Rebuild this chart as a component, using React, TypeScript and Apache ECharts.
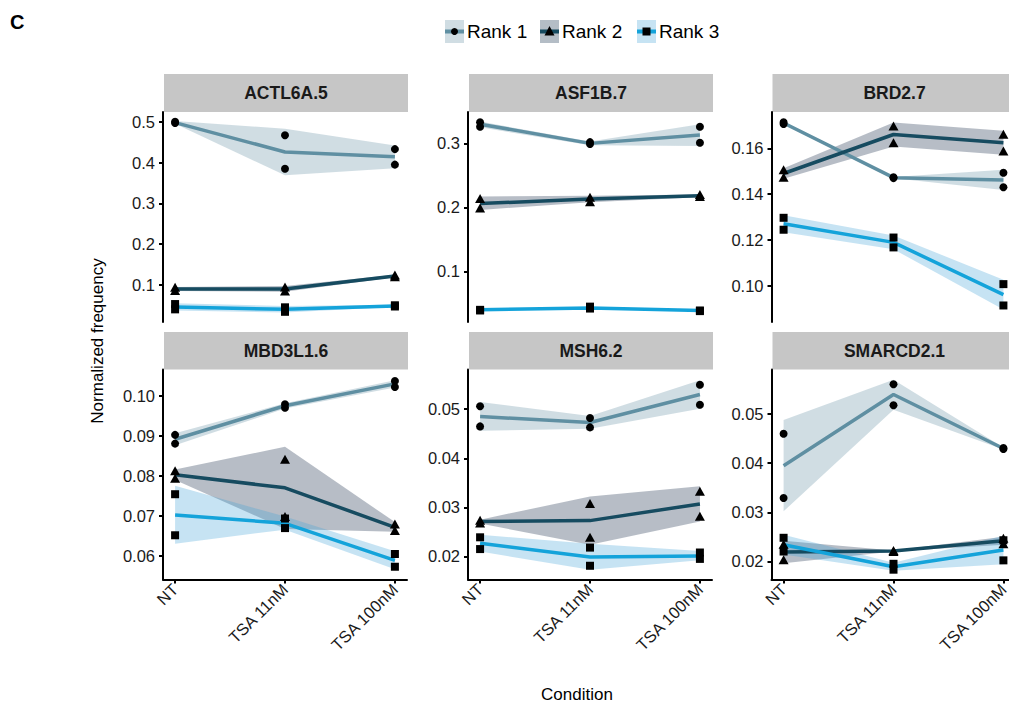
import React, { useEffect, useRef } from "react";
import * as echarts from "echarts";

const conditions = ["NT", "TSA 11nM", "TSA 100nM"];
const ranks = ["Rank 1", "Rank 2", "Rank 3"];
const panelTitles = ["ACTL6A.5", "ASF1B.7", "BRD2.7", "MBD3L1.6", "MSH6.2", "SMARCD2.1"];

// Each array: [Rank 1, Rank 2, Rank 3] x [NT, TSA 11nM, TSA 100nM]
const ACTL6A_rep1 = [[0.500, 0.467, 0.433], [0.094, 0.095, 0.124], [0.053, 0.045, 0.050]];
const ACTL6A_rep2 = [[0.497, 0.385, 0.395], [0.086, 0.085, 0.120], [0.040, 0.034, 0.047]];
const ACTL6A_mean = [[0.498, 0.426, 0.414], [0.090, 0.090, 0.122], [0.046, 0.040, 0.048]];
const ACTL6A_lo = [[0.495, 0.369, 0.386], [0.085, 0.083, 0.119], [0.037, 0.032, 0.046]];
const ACTL6A_hi = [[0.502, 0.483, 0.442], [0.095, 0.097, 0.125], [0.055, 0.048, 0.051]];

const ASF1B_rep1 = [[0.333, 0.302, 0.326], [0.214, 0.216, 0.220], [0.040, 0.045, 0.039]];
const ASF1B_rep2 = [[0.326, 0.299, 0.301], [0.199, 0.209, 0.217], [0.039, 0.042, 0.038]];
const ASF1B_mean = [[0.330, 0.300, 0.313], [0.206, 0.213, 0.218], [0.040, 0.043, 0.039]];
const ASF1B_lo = [[0.325, 0.297, 0.296], [0.196, 0.208, 0.216], [0.039, 0.041, 0.038]];
const ASF1B_hi = [[0.334, 0.303, 0.330], [0.217, 0.218, 0.220], [0.041, 0.045, 0.040]];

const BRD2_rep1 = [[0.1713, 0.1474, 0.1493], [0.1506, 0.1697, 0.1661], [0.1297, 0.1211, 0.1008]];
const BRD2_rep2 = [[0.1706, 0.1470, 0.1430], [0.1474, 0.1624, 0.1588], [0.1245, 0.1168, 0.0915]];
const BRD2_mean = [[0.1710, 0.1472, 0.1462], [0.1490, 0.1660, 0.1624], [0.1271, 0.1190, 0.0962]];
const BRD2_lo = [[0.1702, 0.1469, 0.1418], [0.1467, 0.1608, 0.1572], [0.1234, 0.1160, 0.0897]];
const BRD2_hi = [[0.1717, 0.1475, 0.1506], [0.1513, 0.1712, 0.1676], [0.1308, 0.1220, 0.1027]];

const MBD3L1_rep1 = [[0.0903, 0.0980, 0.1038], [0.0813, 0.0842, 0.0679], [0.0754, 0.0693, 0.0604]];
const MBD3L1_rep2 = [[0.0881, 0.0971, 0.1023], [0.0794, 0.0698, 0.0663], [0.0651, 0.0669, 0.0572]];
const MBD3L1_mean = [[0.0892, 0.0976, 0.1031], [0.0803, 0.0770, 0.0671], [0.0702, 0.0681, 0.0588]];
const MBD3L1_lo = [[0.0877, 0.0969, 0.1022], [0.0790, 0.0667, 0.0660], [0.0630, 0.0665, 0.0566]];
const MBD3L1_hi = [[0.0907, 0.0982, 0.1040], [0.0816, 0.0873, 0.0684], [0.0775, 0.0698, 0.0611]];

const MSH6_rep1 = [[0.0506, 0.0482, 0.0550], [0.0274, 0.0308, 0.0333], [0.0239, 0.0218, 0.0208]];
const MSH6_rep2 = [[0.0465, 0.0463, 0.0509], [0.0268, 0.0239, 0.0282], [0.0215, 0.0181, 0.0195]];
const MSH6_mean = [[0.0485, 0.0473, 0.0530], [0.0271, 0.0273, 0.0307], [0.0227, 0.0199, 0.0201]];
const MSH6_lo = [[0.0456, 0.0460, 0.0501], [0.0267, 0.0224, 0.0271], [0.0210, 0.0173, 0.0192]];
const MSH6_hi = [[0.0515, 0.0486, 0.0559], [0.0275, 0.0322, 0.0343], [0.0244, 0.0226, 0.0211]];

const SMARCD2_rep1 = [[0.0460, 0.0561, 0.0431], [0.0235, 0.0222, 0.0247], [0.0248, 0.0195, 0.0243]];
const SMARCD2_rep2 = [[0.0329, 0.0518, 0.0429], [0.0203, 0.0220, 0.0236], [0.0220, 0.0183, 0.0202]];
const SMARCD2_mean = [[0.0395, 0.0540, 0.0430], [0.0219, 0.0221, 0.0242], [0.0234, 0.0189, 0.0223]];
const SMARCD2_lo = [[0.0302, 0.0509, 0.0428], [0.0196, 0.0220, 0.0234], [0.0214, 0.0181, 0.0194]];
const SMARCD2_hi = [[0.0488, 0.0570, 0.0432], [0.0242, 0.0222, 0.0250], [0.0254, 0.0197, 0.0252]];

const yMin = [0.009, 0.021, 0.0843, 0.054, 0.0153, 0.0163];
const yMax = [0.524, 0.349, 0.1758, 0.1067, 0.0581, 0.0591];

const yTickLabels = [
  ["0.1", "0.2", "0.3", "0.4", "0.5"],
  ["0.1", "0.2", "0.3"],
  ["0.10", "0.12", "0.14", "0.16"],
  ["0.06", "0.07", "0.08", "0.09", "0.10"],
  ["0.02", "0.03", "0.04", "0.05"],
  ["0.02", "0.03", "0.04", "0.05"],
];

const panelRep1 = [ACTL6A_rep1, ASF1B_rep1, BRD2_rep1, MBD3L1_rep1, MSH6_rep1, SMARCD2_rep1];
const panelRep2 = [ACTL6A_rep2, ASF1B_rep2, BRD2_rep2, MBD3L1_rep2, MSH6_rep2, SMARCD2_rep2];
const panelMean = [ACTL6A_mean, ASF1B_mean, BRD2_mean, MBD3L1_mean, MSH6_mean, SMARCD2_mean];
const panelLo = [ACTL6A_lo, ASF1B_lo, BRD2_lo, MBD3L1_lo, MSH6_lo, SMARCD2_lo];
const panelHi = [ACTL6A_hi, ASF1B_hi, BRD2_hi, MBD3L1_hi, MSH6_hi, SMARCD2_hi];

const FONT = "'Liberation Sans', Arial, Helvetica, sans-serif";
const lineColors = ["#5f8fa2", "#164b60", "#14a3da"];
const bandColors = ["rgba(98,142,162,0.3)", "rgba(18,35,65,0.3)", "rgba(65,162,215,0.3)"];
const keyColors = ["#d0dde3", "#b4bdc6", "#c6e3f3"];
const symbols = ["circle", "triangle", "rect"];
const symbolSizes: any[] = [8, [10, 9], 8];

const gridLefts = [163, 468, 771.5];
const gridTops = [112, 369.5];
const GW = 244;
const GH = 210;

function buildOption() {
  const grids: any[] = [];
  const xAxes: any[] = [];
  const yAxes: any[] = [];
  const series: any[] = [];
  const graphics: any[] = [];

  for (let p = 0; p < 6; p++) {
    const col = p % 3;
    const row = Math.floor(p / 3);
    const bottom = row === 1;
    const left = gridLefts[col];
    const top = gridTops[row];
    grids.push({ left, top, width: GW, height: GH, containLabel: false, outerBoundsMode: "none" });

    xAxes.push({
      type: "value",
      gridIndex: p,
      min: -0.11,
      max: 2.11,
      axisLine: { show: bottom, onZero: false, lineStyle: { color: "#000", width: 2 } },
      axisTick: { show: bottom, customValues: [0, 1, 2], length: 4, lineStyle: { color: "#000", width: 2 } },
      axisLabel: {
        show: bottom,
        customValues: [0, 1, 2],
        rotate: 45,
        margin: 7,
        fontSize: 16.5,
        fontFamily: FONT,
        color: "#1a1a1a",
        formatter: (v: number) => conditions[Math.round(v)] ?? "",
      },
      splitLine: { show: false },
    });

    const labels = yTickLabels[p];
    const vals = labels.map((l) => parseFloat(l));
    yAxes.push({
      type: "value",
      gridIndex: p,
      min: yMin[p],
      max: yMax[p],
      axisLine: { show: true, onZero: false, lineStyle: { color: "#000", width: 2 } },
      axisTick: { show: true, customValues: vals, length: 4, lineStyle: { color: "#000", width: 2 } },
      axisLabel: {
        customValues: vals,
        margin: 8,
        fontSize: 16.5,
        fontFamily: FONT,
        color: "#1a1a1a",
        formatter: (v: number) => {
          const i = vals.findIndex((x) => Math.abs(x - v) < 1e-9);
          return i >= 0 ? labels[i] : "";
        },
      },
      splitLine: { show: false },
    });

    for (let r = 0; r < 3; r++) {
      const lo = panelLo[p][r];
      const hi = panelHi[p][r];
      series.push({
        type: "custom",
        xAxisIndex: p,
        yAxisIndex: p,
        z: 1,
        silent: true,
        data: conditions.map((_, i) => [i, lo[i], hi[i]]),
        encode: { x: 0, y: [1, 2] },
        renderItem: (params: any, api: any) => {
          if (params.dataIndex !== 0) return null;
          const up = conditions.map((_, i) => api.coord([i, hi[i]]));
          const dn = conditions.map((_, i) => api.coord([i, lo[i]])).reverse();
          return {
            type: "polygon",
            shape: { points: up.concat(dn) },
            style: { fill: bandColors[r] },
          };
        },
      });
    }
    for (let r = 0; r < 3; r++) {
      const m = panelMean[p][r];
      series.push({
        type: "line",
        name: ranks[r],
        xAxisIndex: p,
        yAxisIndex: p,
        z: 2,
        silent: true,
        showSymbol: false,
        symbol: "none",
        data: conditions.map((_, i) => [i, m[i]]),
        lineStyle: { color: lineColors[r], width: 3.5 },
      });
    }
    for (let r = 0; r < 3; r++) {
      const a = panelRep1[p][r];
      const b = panelRep2[p][r];
      const pts: any[] = [];
      conditions.forEach((_, i) => {
        pts.push([i, a[i]]);
        pts.push([i, b[i]]);
      });
      series.push({
        type: "scatter",
        xAxisIndex: p,
        yAxisIndex: p,
        z: 3,
        silent: true,
        symbol: symbols[r],
        symbolSize: symbolSizes[r],
        itemStyle: { color: "#000", opacity: 1 },
        data: pts,
      });
    }

    // strip
    const stripTop = row === 0 ? 74 : 332;
    const stripH = row === 0 ? 38 : 37.5;
    graphics.push({
      type: "rect",
      shape: { x: left + 1, y: stripTop, width: GW, height: stripH },
      style: { fill: "#c6c6c6" },
      silent: true,
    });
    graphics.push({
      type: "text",
      x: left + 1 + GW / 2,
      y: stripTop + stripH / 2,
      style: {
        text: panelTitles[p],
        fontFamily: FONT,
        fontSize: 17.5,
        fontWeight: "bold",
        fill: "#1a1a1a",
        align: "center",
        verticalAlign: "middle",
      },
      silent: true,
    });
  }

  // Legend
  const keyX = [445, 540, 637];
  const keyW = 19;
  const keyY = 20;
  const keyH = 23;
  const cy = keyY + keyH / 2;
  for (let r = 0; r < 3; r++) {
    const kx = keyX[r];
    graphics.push({ type: "rect", shape: { x: kx, y: keyY, width: keyW, height: keyH }, style: { fill: keyColors[r] } });
    graphics.push({
      type: "line",
      shape: { x1: kx, y1: cy, x2: kx + keyW, y2: cy },
      style: { stroke: lineColors[r], lineWidth: 4 },
    });
    const mx = kx + keyW / 2;
    if (r === 0) {
      graphics.push({ type: "circle", shape: { cx: mx, cy, r: 3.5 }, style: { fill: "#000" } });
    } else if (r === 1) {
      graphics.push({
        type: "polygon",
        shape: { points: [[mx, cy - 5.5], [mx - 5, cy + 4], [mx + 5, cy + 4]] },
        style: { fill: "#000" },
      });
    } else {
      graphics.push({ type: "rect", shape: { x: mx - 4, y: cy - 4, width: 8, height: 8 }, style: { fill: "#000" } });
    }
    graphics.push({
      type: "text",
      x: kx + keyW + 3,
      y: cy,
      style: { text: ranks[r], fontFamily: FONT, fontSize: 19, fill: "#000", align: "left", verticalAlign: "middle" },
    });
  }

  graphics.push({
    type: "text",
    x: 10,
    y: 22,
    style: { text: "C", fontFamily: FONT, fontSize: 20, fontWeight: "bold", fill: "#000", align: "left", verticalAlign: "middle" },
  });
  graphics.push({
    type: "text",
    x: 97,
    y: 341,
    rotation: Math.PI / 2,
    style: { text: "Normalized frequency", fontFamily: FONT, fontSize: 17, fill: "#000", align: "center", verticalAlign: "middle" },
  });
  graphics.push({
    type: "text",
    x: 577,
    y: 694,
    style: { text: "Condition", fontFamily: FONT, fontSize: 17, fill: "#000", align: "center", verticalAlign: "middle" },
  });

  return {
    animation: false,
    backgroundColor: "#ffffff",
    grid: grids,
    xAxis: xAxes,
    yAxis: yAxes,
    series,
    graphic: graphics,
  };
}

export default function App() {
  const ref = useRef<HTMLDivElement>(null);
  useEffect(() => {
    if (!ref.current) return;
    const chart = echarts.init(ref.current, undefined, { renderer: "svg" });
    chart.setOption(buildOption() as any);
    return () => chart.dispose();
  }, []);
  return <div ref={ref} style={{ position: "absolute", left: 0, top: 0, width: 1009, height: 705 }} />;
}
